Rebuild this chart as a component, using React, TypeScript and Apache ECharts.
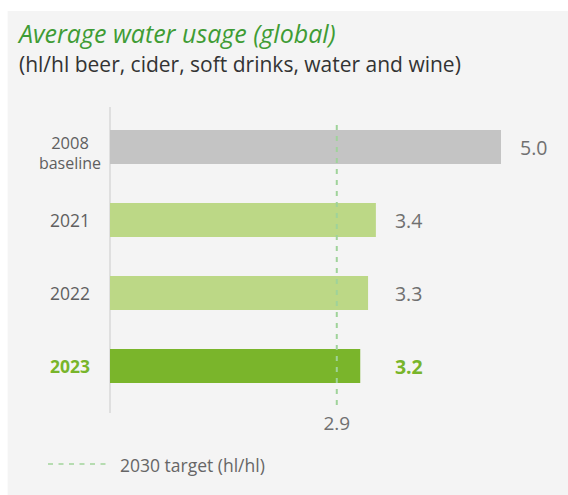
import React, { useEffect, useRef } from "react";
import * as echarts from "echarts";

const categories = ["2008\nbaseline", "2021", "2022", "2023"];
const values = [5.0, 3.4, 3.3, 3.2];
const barColors = ["#c4c4c4", "#bcd886", "#bcd886", "#7ab52b"];
const targetValue = 2.9;
const titleText = "Average water usage (global)";
const subtitleText = "(hl/hl beer, cider, soft drinks, water and wine)";
const legendText = "2030 target (hl/hl)";

const FONT = "'Open Sans', sans-serif";
const GREEN = "#3f9c35";
const HILITE = "#78b52a";
const LABEL = "#5f5f5f";
const TARGET_COLOR = "#9fd39a";

export default function App() {
  const ref = useRef<HTMLDivElement>(null);
  useEffect(() => {
    if (!ref.current) return;
    const chart = echarts.init(ref.current, null, { renderer: "svg" });
    const gridLeft = 110;
    const gridWidth = 391;
    const xMax = 5;
    const pxPerUnit = gridWidth / xMax;
    const labelCol = values.map((v, i) => (i === 0 ? v : Math.max(...values.slice(1))));
    chart.setOption({
      animation: false,
      textStyle: { fontFamily: FONT },
      title: [
        {
          text: titleText,
          left: 19,
          top: 18,
          padding: 0,
          textStyle: { fontFamily: FONT, fontSize: 25, fontStyle: "italic", fontWeight: "normal", color: GREEN, lineHeight: 30 },
        },
        {
          text: subtitleText,
          left: 19,
          top: 50.5,
          padding: 0,
          textStyle: { fontFamily: FONT, fontSize: 21, fontWeight: "normal", color: "#333", lineHeight: 26 },
        },
      ],
      grid: { left: gridLeft, width: gridWidth, top: 110.5, height: 292 },
      xAxis: { type: "value", min: 0, max: xMax, show: false },
      yAxis: {
        type: "category",
        data: categories,
        inverse: true,
        axisLine: { show: false },
        axisTick: { show: false },
        axisLabel: {
          align: "center",
          margin: 40,
          formatter: (v: string, i: number) => {
            if (v.indexOf("\n") >= 0) {
              const [a, b] = v.split("\n");
              return `{s| }\n{c|${a}}\n{b|${b}}`;
            }
            return i === categories.length - 1 ? `{h|${v}}` : `{a|${v}}`;
          },
          rich: {
            s: { fontSize: 4, lineHeight: 11 },
            a: { fontFamily: FONT, fontSize: 17.5, color: LABEL, lineHeight: 21 },
            c: { fontFamily: FONT, fontSize: 16.5, color: LABEL, lineHeight: 21 },
            b: { fontFamily: FONT, fontSize: 16, color: LABEL, lineHeight: 21 },
            h: { fontFamily: FONT, fontSize: 17.5, color: HILITE, fontWeight: "bold", lineHeight: 21 },
          },
        },
      },
      series: [
        {
          type: "bar",
          barWidth: 34,
          data: values.map((v, i) => ({
            value: v,
            itemStyle: { color: barColors[i] },
            label: {
              show: true,
              position: "right",
              distance: (labelCol[i] - v) * pxPerUnit + 19,
              formatter: (p: any) => p.value.toFixed(1),
              fontFamily: FONT,
              fontSize: 19.5,
              color: i === values.length - 1 ? HILITE : "#707070",
              fontWeight: i === values.length - 1 ? "bold" : "normal",
            },
          })),
        },
      ],
    });
    const x0 = chart.convertToPixel({ xAxisIndex: 0 }, 0) as number;
    const xt = chart.convertToPixel({ xAxisIndex: 0 }, targetValue) as number;
    chart.setOption({
      graphic: [
        { type: "rect", z: -100, silent: true, shape: { x: 7.6, y: 11, width: 561, height: 484 }, style: { fill: "#f4f4f4" } },
        { type: "line", z: 1, shape: { x1: x0, y1: 107, x2: x0, y2: 413 }, style: { stroke: "#d9d9d9", lineWidth: 1.5 } },
        { type: "line", z: 100, shape: { x1: xt, y1: 125, x2: xt, y2: 406 }, style: { stroke: TARGET_COLOR, lineWidth: 2, lineDash: [5, 6] } },
        {
          type: "text",
          z: 100,
          x: xt,
          y: 423,
          style: { text: targetValue.toFixed(1), fontFamily: FONT, fontSize: 19, fill: "#707070", align: "center", verticalAlign: "middle" },
        },
        { type: "line", z: 100, shape: { x1: 48, y1: 464, x2: 110, y2: 464 }, style: { stroke: "#b6dcb1", lineWidth: 2, lineDash: [5, 5.5] } },
        {
          type: "text",
          z: 100,
          x: 120,
          y: 465,
          style: { text: legendText, fontFamily: FONT, fontSize: 17.5, fill: "#666", align: "left", verticalAlign: "middle" },
        },
      ],
    });
    return () => chart.dispose();
  }, []);
  return (
    <div
      ref={ref}
      style={{ position: "fixed", left: 0, top: 0, width: 568, height: 495, background: "#ffffff" }}
    />
  );
}
